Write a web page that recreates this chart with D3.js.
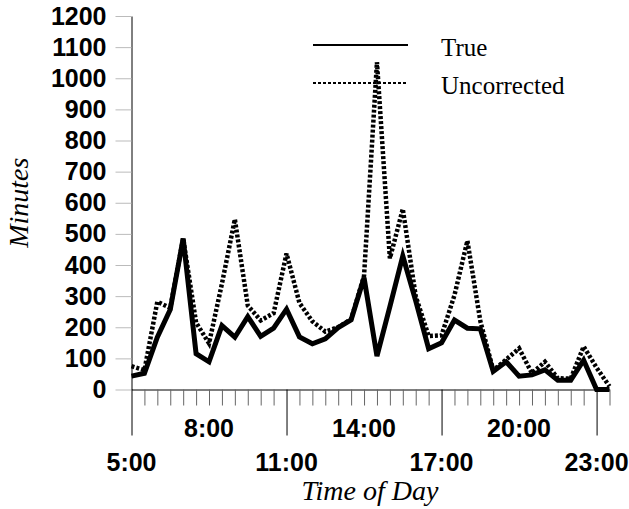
<!DOCTYPE html>
<html>
<head>
<meta charset="utf-8">
<script src="https://cdn.jsdelivr.net/npm/d3@7"></script>
<style>
	body { margin: 0; background: #fff; }
</style>
</head>
<body>
<div id="chart"></div>
<script>

// half-hour slots
var times = ["5:00", "5:30", "6:00", "6:30", "7:00", "7:30", "8:00", "8:30", "9:00", "9:30",
	"10:00", "10:30", "11:00", "11:30", "12:00", "12:30", "13:00", "13:30", "14:00", "14:30",
	"15:00", "15:30", "16:00", "16:30", "17:00", "17:30", "18:00", "18:30", "19:00", "19:30",
	"20:00", "20:30", "21:00", "21:30", "22:00", "22:30", "23:00", "23:30"];

var trueMin = [43, 52, 168, 257, 485, 115, 89, 205, 168, 234,
	171, 197, 258, 169, 147, 163, 199, 224, 359, 107,
	266, 429, 285, 131, 150, 223, 197, 195, 58, 89,
	43, 47, 63, 30, 30, 94, 0, 0];

var uncorrected = [75, 62, 282, 262, 485, 215, 148, 340, 547, 270,
	222, 245, 437, 278, 219, 186, 200, 226, 365, 1052,
	421, 580, 300, 172, 174, 303, 478, 220, 62, 96,
	132, 52, 89, 36, 35, 138, 70, 10];

var yTicks = [0, 100, 200, 300, 400, 500, 600, 700, 800, 900, 1000, 1100, 1200];
var upperLabels = ["8:00", "14:00", "20:00"];
var lowerLabels = ["5:00", "11:00", "17:00", "23:00"];

var seriesNames = ["True", "Uncorrected"];

var sansBold = "'Liberation Sans', Arial, sans-serif";
var serif = "'Liberation Serif', 'Times New Roman', serif";

var margin = {top: 16, right: 19.5, bottom: 119.5, left: 131.5};
var width = 629 - margin.left - margin.right,
	height = 509 - margin.top - margin.bottom;

var svg = d3.select("#chart")
	.append("svg")
	.attr("width", 629)
	.attr("height", 509)
	.append("g")
	.attr("transform", "translate(" + margin.left + "," + margin.top + ")");

// scales
var xPlot = d3.scalePoint()
	.domain(times)
	.range([0, width]);

var yPlot = d3.scaleLinear()
	.domain([0, 1200])
	.range([height, 0]);

// y axis
var yAxis = svg.append("g")
	.call(d3.axisLeft(yPlot)
		.tickValues(yTicks)
		.tickFormat(d3.format("d"))
		.tickSize(16)
		.tickSizeOuter(0)
		.tickPadding(9));
yAxis.select(".domain").attr("stroke", "#000");
yAxis.selectAll(".tick line").attr("stroke", "#bbb");
yAxis.selectAll(".tick text")
	.attr("fill", "#000")
	.style("font-family", sansBold)
	.style("font-weight", "bold")
	.style("font-size", "25px");

// x axis, every half hour
var xAxis = svg.append("g")
	.attr("transform", "translate(0," + height + ")")
	.call(d3.axisBottom(xPlot)
		.tickSizeOuter(0)
		.tickFormat(""));
xAxis.select(".domain").attr("stroke", "#000");
xAxis.selectAll(".tick line")
	.attr("stroke", function(d) { return lowerLabels.indexOf(d) >= 0 ? "#000" : "#666"; })
	.attr("y2", function(d) { return lowerLabels.indexOf(d) >= 0 ? 46 : 16; });

xAxis.selectAll(".tick text").remove();

function addLabels(labels, cls, y) {
	xAxis.selectAll("." + cls)
		.data(labels)
		.enter()
		.append("text")
		.attr("class", cls)
		.attr("x", function(d) { return xPlot(d); })
		.attr("y", y)
		.attr("text-anchor", "middle")
		.attr("fill", "#000")
		.style("font-family", sansBold)
		.style("font-weight", "bold")
		.style("font-size", "25px")
		.text(function(d) { return d; });
}
addLabels(upperLabels, "upper", 47);
addLabels(lowerLabels, "lower", 81);

// lines
var line = d3.line()
	.x(function(d, i) { return xPlot(times[i]); })
	.y(function(d) { return yPlot(d); });

svg.append("path")
	.datum(uncorrected)
	.attr("fill", "none")
	.attr("stroke", "#000")
	.attr("stroke-width", 4.5)
	.attr("stroke-dasharray", "3,2")
	.attr("d", line);

svg.append("path")
	.datum(trueMin)
	.attr("fill", "none")
	.attr("stroke", "#000")
	.attr("stroke-width", 5)
	.attr("d", line);

// axis titles
svg.append("text")
	.attr("transform", "translate(-104," + (height / 2) + ") rotate(-90)")
	.attr("text-anchor", "middle")
	.style("font-family", serif)
	.style("font-style", "italic")
	.style("font-size", "28px")
	.text("Minutes");

svg.append("text")
	.attr("x", 370 - margin.left)
	.attr("y", 500 - margin.top)
	.attr("text-anchor", "middle")
	.style("font-family", serif)
	.style("font-style", "italic")
	.style("font-size", "28px")
	.text("Time of Day");

// legend
var legend = svg.append("g")
	.attr("transform", "translate(" + (313 - margin.left) + "," + (45 - margin.top) + ")");

var legendItems = legend.selectAll("g")
	.data(seriesNames)
	.enter()
	.append("g")
	.attr("transform", function(d, i) { return "translate(0," + (i * 38) + ")"; });

legendItems.append("line")
	.attr("x1", 0)
	.attr("x2", 95)
	.attr("stroke", "#000")
	.attr("stroke-width", 2)
	.attr("stroke-dasharray", function(d, i) { return i == 1 ? "3,2" : null; });

legendItems.append("text")
	.attr("x", 128)
	.attr("y", 11)
	.style("font-family", serif)
	.style("font-size", "25px")
	.text(function(d) { return d; });

</script>
</body>
</html>
